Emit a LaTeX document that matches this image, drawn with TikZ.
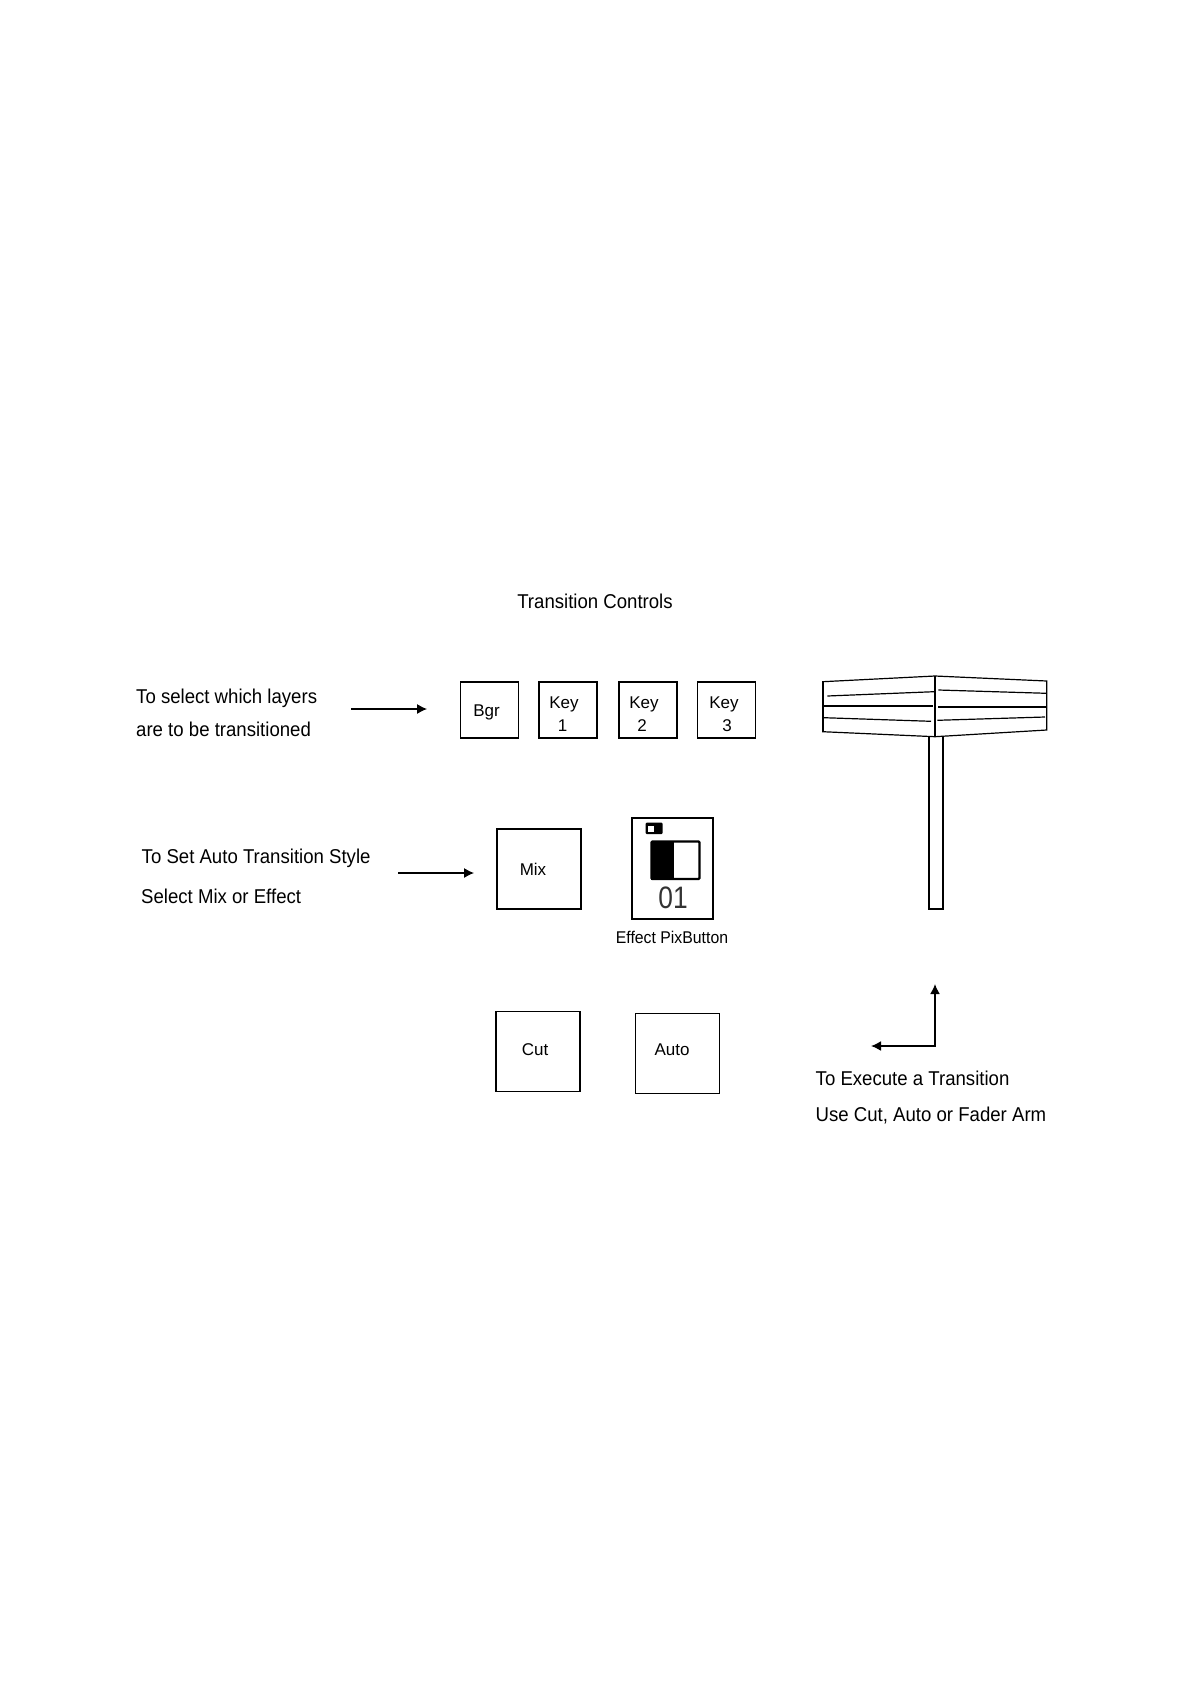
\documentclass[tikz,border=0pt]{standalone}
\usepackage{fontspec}
\setmainfont{Liberation Sans}
\newfontfamily\narrowfont[FakeStretch=0.93]{Liberation Sans}
\newfontfamily\numfont[FakeStretch=0.85]{Liberation Sans}
\usetikzlibrary{arrows.meta}
\tikzset{
  btn/.style={draw=black,line width=1.6pt,fill=white,inner sep=0pt,anchor=north west},
  lab/.style={inner sep=0pt,font=\narrowfont\fontsize{20}{20}\selectfont,text height=15pt,text depth=4pt,anchor=west},
  blab/.style={inner sep=0pt,font=\fontsize{17}{17}\selectfont,text height=12pt,text depth=3pt,anchor=center},
  conn/.style={line width=1.1pt,-{Latex[length=10pt,width=10pt]}},
  fade/.style={line width=1.2pt},
  fadeh/.style={line width=1.7pt},
}
\begin{document}
\begin{tikzpicture}[x=1pt,y=-1pt]
\useasboundingbox (0,0) rectangle (1191,1684);
\fill[white] (0,0) rectangle (1191,1684);
% title
\node[lab,anchor=center] (title) at (595,602.5) {Transition Controls};
% left labels
\node[lab] (t1) at (136,698) {To select which layers};
\node[lab] (t2) at (136,731) {are to be transitioned};
\node[lab] (t3) at (141.5,858) {To Set Auto Transition Style};
\node[lab] (t4) at (141,898) {Select Mix or Effect};
\node[lab] (t5) at (815.5,1080) {To Execute a Transition};
\node[lab] (t6) at (815.5,1116) {Use Cut, Auto or Fader Arm};
% buttons
\node[btn,minimum width=58pt,minimum height=56pt] (bgr) at (459.5,681) {};
\node[btn,minimum width=58pt,minimum height=56pt] (k1) at (538,681) {};
\node[btn,minimum width=58pt,minimum height=56pt] (k2) at (618,681) {};
\node[btn,minimum width=58pt,minimum height=56pt] (k3) at (696.5,681) {};
\node[btn,minimum width=84pt,minimum height=80pt] (mix) at (496,828) {};
\node[btn,minimum width=81pt,minimum height=101pt] (pix) at (631,817) {};
\node[btn,minimum width=84pt,minimum height=80pt] (cut) at (495,1010.5) {};
\node[btn,minimum width=84pt,minimum height=80pt] (auto) at (634.5,1012.5) {};
% button labels
\node[blab] (lbgr) at (486.5,712) {Bgr};
\node[blab] (lk1a) at (564,704) {Key};
\node[blab] (lk1b) at (562.7,727) {1};
\node[blab] (lk2a) at (644,704) {Key};
\node[blab] (lk2b) at (642,727) {2};
\node[blab] (lk3a) at (724,704) {Key};
\node[blab] (lk3b) at (727,727) {3};
\node[blab] (lmix) at (533,871) {Mix};
\node[blab] (lcut) at (535,1051) {Cut};
\node[blab] (lauto) at (672,1051) {Auto};
\node[blab,font=\narrowfont\fontsize{17}{17}\selectfont] (lpix) at (672,939) {Effect PixButton};
% pix icon
\fill[black,rounded corners=1pt] (645.7,822.7) rectangle (662.7,834);
\fill[white] (648,825.5) rectangle (654,831.5);
\draw[black,line width=2.2pt,rounded corners=1pt,fill=white] (651.5,841.5) rectangle (699.5,879);
\fill[black] (650.5,840.5) rectangle (674,880);
\node[inner sep=0pt,font=\numfont\fontsize{31}{31}\selectfont,text=black!80] (lnum) at (673,898) {01};
% fader handle
\draw[fadeh,fill=white] (928.7,736) -- (928.7,908.7) -- (943.3,908.7) -- (943.3,736);
% fader head
\draw[fade,fill=white] (822.7,681.7) -- (935,676) -- (1046.7,681) -- (1046.7,730) -- (935,736.7) -- (822.7,731.7) -- cycle;
\draw[fadeh] (822.7,681.7) -- (822.7,731.7);
\draw[fadeh] (935,676) -- (935,736.7);
\draw[fade] (827.3,696) -- (934,691.7);
\draw[fadeh] (824,706) -- (932.7,706);
\draw[fade] (824,717.7) -- (931,721.3);
\draw[fade] (938.3,690) -- (1046.7,693.3);
\draw[fadeh] (938,707) -- (1046.7,707);
\draw[fade] (937.3,720.3) -- (1045,717);
% connectors
\coordinate (a1s) at (351,709); \coordinate (a1e) at (427,709);
\coordinate (a2s) at (398,873); \coordinate (a2e) at (474,873);
\coordinate (a3t) at (935,984); \coordinate (a3c) at (935,1046); \coordinate (a3e) at (871,1046);
\draw[conn] (a1s) -- (a1e);
\draw[conn] (a2s) -- (a2e);
\draw[line width=1.6pt,{Latex[length=10pt,width=10pt]}-{Latex[length=10pt,width=10pt]}] (a3t) -- (a3c) -- (a3e);
\end{tikzpicture}
\end{document}
